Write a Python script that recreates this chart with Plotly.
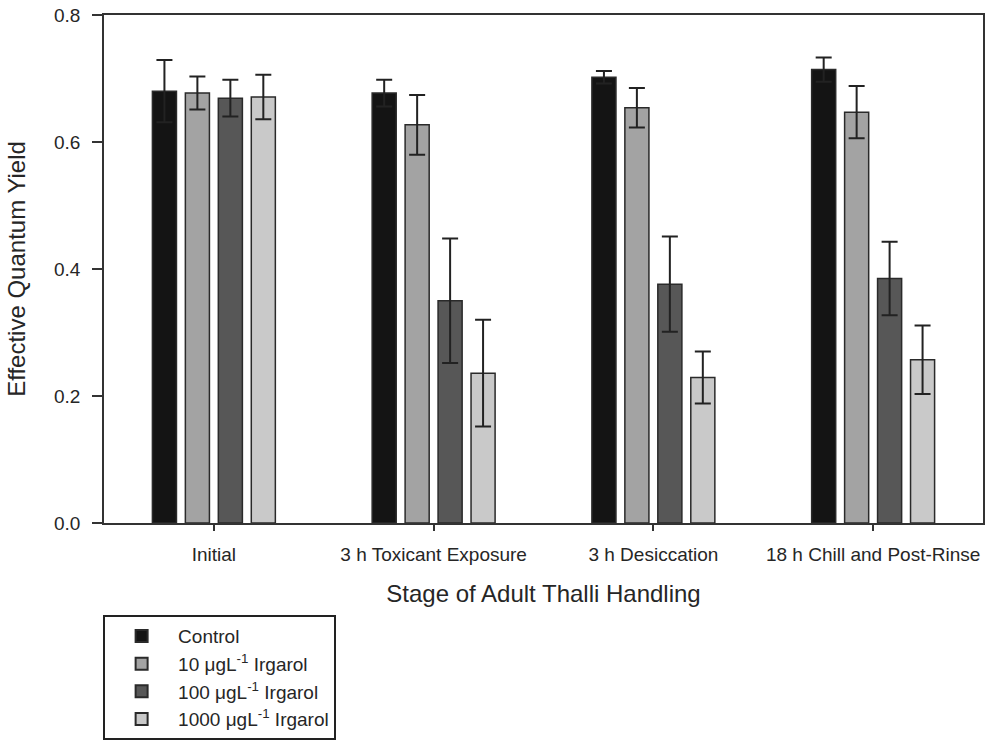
import plotly.graph_objects as go

stages = ["Initial", "3 h Toxicant Exposure", "3 h Desiccation", "18 h Chill and Post-Rinse"]
series_names = ["Control", "10 μgL<sup>-1</sup> Irgarol", "100 μgL<sup>-1</sup> Irgarol", "1000 μgL<sup>-1</sup> Irgarol"]
control = [0.680, 0.677, 0.702, 0.714]
control_err = [0.049, 0.021, 0.010, 0.019]
irg10 = [0.677, 0.627, 0.654, 0.647]
irg10_err = [0.026, 0.047, 0.031, 0.041]
irg100 = [0.669, 0.350, 0.376, 0.385]
irg100_err = [0.029, 0.098, 0.075, 0.058]
irg1000 = [0.671, 0.236, 0.229, 0.257]
irg1000_err = [0.035, 0.084, 0.041, 0.054]

values = [control, irg10, irg100, irg1000]
errors = [control_err, irg10_err, irg100_err, irg1000_err]
colors = ["#141414", "#a3a3a3", "#575757", "#c9c9c9"]

font_family = "Liberation Sans, Arial, Helvetica, sans-serif"
ink = "#262626"

fig = go.Figure()
for name, vals, errs, col in zip(series_names, values, errors, colors):
    fig.add_trace(go.Bar(
        x=stages, y=vals, name=name,
        marker=dict(color=col, line=dict(color="#2a2a2a", width=1.5)),
        error_y=dict(type="data", array=errs, visible=True, color="#222222", thickness=2, width=8),
    ))

fig.update_layout(
    width=990, height=746,
    margin=dict(l=104, r=7, t=15, b=222),
    barmode="group", bargap=0.4, bargroupgap=0.27,
    plot_bgcolor="white", paper_bgcolor="white",
    font=dict(family=font_family, size=19, color=ink),
    showlegend=True,
    legend=dict(
        x=-0.001, y=-0.179, xanchor="left", yanchor="top",
        bordercolor="#222222", borderwidth=2, bgcolor="white",
        font=dict(size=19, color=ink), traceorder="normal",
        tracegroupgap=0, itemsizing="constant", itemwidth=63,
    ),
    xaxis=dict(
        range=[-0.5, 3.5], showline=True, linecolor="#333333", linewidth=1.5, mirror=True,
        ticks="outside", ticklen=6, tickwidth=1.5, tickcolor="#333333",
        tickfont=dict(size=19, color=ink), ticklabelstandoff=7, ticklabeloverflow="allow",
        title=dict(text="Stage of Adult Thalli Handling", font=dict(size=24, color=ink), standoff=22),
        showgrid=False, automargin=False,
    ),
    yaxis=dict(
        range=[0, 0.8], dtick=0.2, tickformat=".1f",
        showline=True, linecolor="#333333", linewidth=1.5, mirror=True,
        ticks="outside", ticklen=10, tickwidth=1.5, tickcolor="#333333",
        tickfont=dict(size=19, color=ink), ticklabelstandoff=8, ticklabeloverflow="allow",
        title=dict(text="Effective Quantum Yield", font=dict(size=24, color=ink), standoff=22),
        showgrid=False, zeroline=False, automargin=False,
    ),
)

fig.write_html("out.html", config={"displayModeBar": False},
               post_script="document.body.style.margin='0px';")
